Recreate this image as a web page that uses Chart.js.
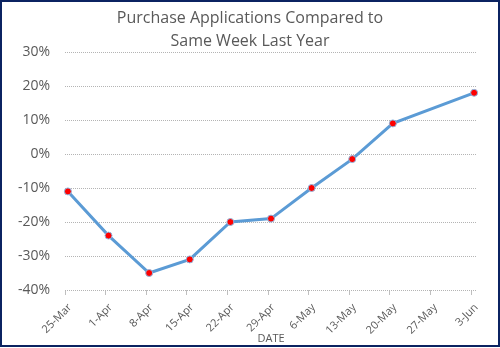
<!DOCTYPE html>
<html>
<head>
<meta charset="utf-8">
<script src="https://cdn.jsdelivr.net/npm/chart.js@4.4.1/dist/chart.umd.min.js"></script>
<style>
  html, body { margin: 0; padding: 0; background: #ffffff; }
  #wrap { width: 500px; height: 348px; position: relative; }
</style>
</head>
<body>
<div id="wrap"><canvas id="chart" width="500" height="348"></canvas></div>
<script>
// Weekly dates (axis categories) and year-over-year change in purchase applications, in %
const weekLabels = ['25-Mar', '1-Apr', '8-Apr', '15-Apr', '22-Apr', '29-Apr', '6-May', '13-May', '20-May', '27-May', '3-Jun'];
const yoyChange = [-11, -24, -35, -31, -20, -19, -10, -1.5, 9, null, 18];
const yTicks = [-40, -30, -20, -10, 0, 10, 20, 30];
const titleLines = ['Purchase Applications Compared to', 'Same Week Last Year'];

// Day-based axis: one slot per day, each weekly point sits in the middle of its day slot
const DAYS_PER_WEEK = 7;
const SLOT_CENTER = 0.5;
const totalDays = (weekLabels.length - 1) * DAYS_PER_WEEK + 1;

const points = [];
yoyChange.forEach((v, i) => {
  if (v !== null) points.push({ x: i * DAYS_PER_WEEK + SLOT_CENTER, y: v });
});

const textColor = '#595959';
const gridColor = '#b4b4b4';
const fontFamily = '"Open Sans", "Noto Sans", sans-serif';

const frameAndTitle = {
  id: 'frameAndTitle',
  afterDraw(chart) {
    const ctx = chart.ctx;
    ctx.save();
    ctx.fillStyle = textColor;
    ctx.font = '16px ' + fontFamily;
    ctx.textAlign = 'center';
    ctx.textBaseline = 'middle';
    titleLines.forEach((t, i) => ctx.fillText(t, 250, 18 + i * 23));
    ctx.strokeStyle = '#0b2361';
    ctx.lineWidth = 2;
    ctx.strokeRect(1, 1, chart.width - 2, chart.height - 3);
    ctx.restore();
  }
};

new Chart(document.getElementById('chart'), {
  type: 'line',
  data: {
    datasets: [{
      data: points,
      borderColor: '#5b9bd5',
      borderWidth: 3,
      pointBackgroundColor: '#ff0000',
      pointBorderColor: '#8fb8e0',
      pointBorderWidth: 1,
      pointRadius: 3.5,
      tension: 0,
      clip: false
    }]
  },
  options: {
    responsive: false,
    animation: false,
    layout: { padding: { top: 52, right: 23, left: 0, bottom: 0 } },
    plugins: { legend: { display: false }, tooltip: { enabled: false }, title: { display: false } },
    scales: {
      x: {
        type: 'linear',
        min: 0,
        max: totalDays,
        afterFit(scale) { scale.height = 58; },
        afterBuildTicks(scale) {
          scale.ticks = weekLabels.map((_, i) => ({ value: i * DAYS_PER_WEEK }));
        },
        ticks: {
          autoSkip: false,
          minRotation: 45,
          maxRotation: 45,
          color: textColor,
          font: { family: fontFamily, size: 11 },
          padding: 6,
          labelOffset: 5,
          callback: (v) => weekLabels[Math.round(v / DAYS_PER_WEEK)]
        },
        grid: { drawOnChartArea: false, drawTicks: true, tickLength: 5, color: '#bfbfbf' },
        border: { display: false },
        title: {
          display: true,
          text: 'DATE',
          color: textColor,
          font: { family: fontFamily, size: 11 },
          padding: { top: 0, bottom: 3 }
        }
      },
      y: {
        min: -40,
        max: 30,
        afterFit(scale) { scale.width = 65; },
        afterBuildTicks(scale) {
          scale.ticks = yTicks.map(v => ({ value: v }));
        },
        ticks: {
          color: textColor,
          font: { family: fontFamily, size: 14 },
          padding: 15,
          callback: (v) => v + '%'
        },
        grid: { drawTicks: false, color: gridColor, lineWidth: 1 },
        border: { display: false, dash: [1, 1] }
      }
    }
  },
  plugins: [frameAndTitle]
});
</script>
</body>
</html>
